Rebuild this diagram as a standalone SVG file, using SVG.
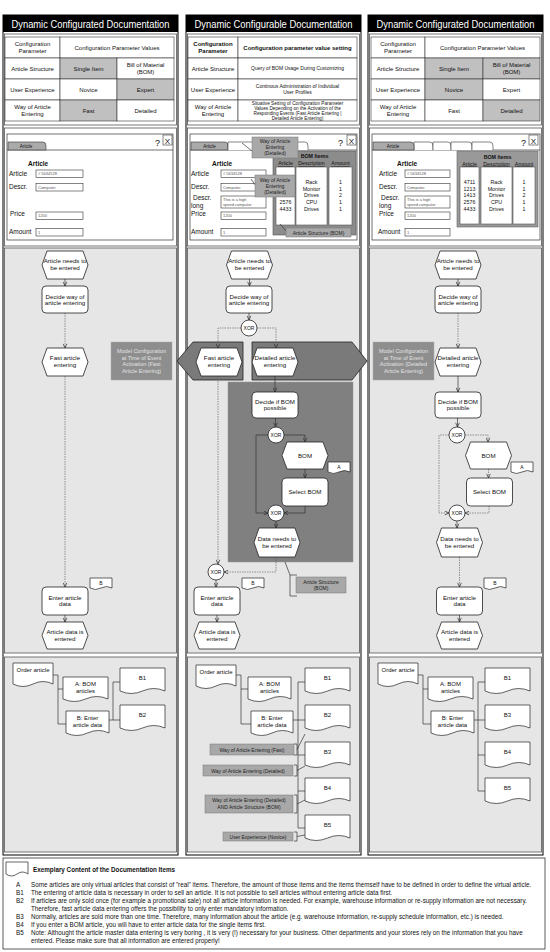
<svg xmlns="http://www.w3.org/2000/svg" width="550" height="952" viewBox="0 0 550 952">
<style>
text{font-family:"Liberation Sans",Arial,sans-serif;fill:#111}
.ttl{fill:#fff;font-size:10px;text-anchor:middle}
.c6{font-size:6px;text-anchor:middle}
.c5{font-size:5px;text-anchor:middle}
.c48{font-size:4.7px;text-anchor:middle}
.p{font-size:6.2px;text-anchor:middle}
.lb{font-size:6.5px}
.hd{font-size:6.5px;font-weight:bold}
.fv{font-size:4px;fill:#555}
.tab{font-size:4.5px;text-anchor:middle}
.bi{font-size:5.3px;text-anchor:middle}
.mc{font-size:5.5px;text-anchor:middle;fill:#e2e2e2}
.cl{font-size:5px;text-anchor:middle;fill:#222}
.lg{font-size:6.3px}
.col{fill:#fff;stroke:#000;stroke-width:1}
.bar{fill:#000}
.sec{fill:#e6e6e6;stroke:#555;stroke-width:0.8}
.secw{fill:#fff;stroke:#555;stroke-width:0.8}
.cell{fill:#fff;stroke:#333;stroke-width:0.6}
.g{fill:#c0c0c0}
.win{fill:#fff;stroke:#333;stroke-width:0.7}
.fld{fill:#fff;stroke:#333;stroke-width:0.6}
.tb{fill:#aaa;stroke:#333;stroke-width:0.6}
.tw{fill:#fff;stroke:#333;stroke-width:0.6}
.bom{stroke:#555;stroke-width:0.6}
.hx{fill:#fff;stroke:#222;stroke-width:0.8}
.rr{fill:#fff;stroke:#222;stroke-width:0.8}
.xor{fill:#fff;stroke:#222;stroke-width:0.8}
.doc{fill:#fff;stroke:#222;stroke-width:0.7}
.dark{fill:#7a7a7a;stroke:#222;stroke-width:0.8}
.darkbox{fill:#808080;stroke:#999;stroke-width:0.5}
.mcb{fill:#8e8e8e;stroke:#aaa;stroke-width:0.5}
.call{fill:#a8a8a8;stroke:#777;stroke-width:0.5}
.ln{fill:none;stroke:#333;stroke-width:0.7}
.dl{fill:none;stroke:#6a6a6a;stroke-width:0.7;stroke-dasharray:1.5 1}
</style>
<defs>
<marker id="ar" viewBox="0 0 6 6" refX="5.5" refY="3" markerWidth="5" markerHeight="5" orient="auto" markerUnits="userSpaceOnUse"><path d="M0.5,0.8 L5.5,3 L0.5,5.2" fill="none" stroke="#333" stroke-width="0.9"/></marker>
</defs>
<rect width="550" height="952" fill="#fff"/>

<!-- ================= COLUMN FRAMES ================= -->
<g id="frames">
  <g id="col1-frame">
    <rect class="col" x="3" y="15" width="175" height="840"/>
    <rect class="bar" x="3" y="15" width="175" height="17"/>
    <text class="ttl" x="90.5" y="27.5" textLength="158" lengthAdjust="spacingAndGlyphs">Dynamic Configurated Documentation</text>
    <rect class="secw" x="4.5" y="34" width="172" height="91"/>
    <rect class="secw" x="4.5" y="128" width="172" height="118"/>
    <rect class="sec" x="4.5" y="248" width="172" height="405"/>
    <rect class="sec" x="4.5" y="657" width="172" height="195"/>
  </g>
  <g id="col2-frame">
    <rect class="col" x="186" y="15" width="175" height="840"/>
    <rect class="bar" x="186" y="15" width="175" height="17"/>
    <text class="ttl" x="273.5" y="27.5" textLength="158" lengthAdjust="spacingAndGlyphs">Dynamic Configurable Documentation</text>
    <rect class="secw" x="187.5" y="34" width="172" height="91"/>
    <rect class="secw" x="187.5" y="128" width="172" height="118"/>
    <rect class="sec" x="187.5" y="248" width="172" height="405"/>
    <rect class="sec" x="187.5" y="657" width="172" height="195"/>
  </g>
  <g id="col3-frame">
    <rect class="col" x="368" y="15" width="175" height="840"/>
    <rect class="bar" x="368" y="15" width="175" height="17"/>
    <text class="ttl" x="455.5" y="27.5" textLength="158" lengthAdjust="spacingAndGlyphs">Dynamic Configurated Documentation</text>
    <rect class="secw" x="369.5" y="34" width="172" height="91"/>
    <rect class="secw" x="369.5" y="128" width="172" height="118"/>
    <rect class="sec" x="369.5" y="248" width="172" height="405"/>
    <rect class="sec" x="369.5" y="657" width="172" height="195"/>
  </g>
</g>

<!-- ================= TABLES ================= -->
<g id="table1">
  <rect class="cell" x="5" y="37" width="55" height="21"/><rect class="cell" x="60" y="37" width="114" height="21"/>
  <rect class="cell" x="5" y="58" width="55" height="21"/><rect class="cell g" x="60" y="58" width="57" height="21"/><rect class="cell" x="117" y="58" width="57" height="21"/>
  <rect class="cell" x="5" y="79" width="55" height="21"/><rect class="cell" x="60" y="79" width="57" height="21"/><rect class="cell g" x="117" y="79" width="57" height="21"/>
  <rect class="cell" x="5" y="100" width="55" height="21"/><rect class="cell g" x="60" y="100" width="57" height="21"/><rect class="cell" x="117" y="100" width="57" height="21"/>
  <text class="c6" x="32.5" y="46">Configuration</text><text class="c6" x="32.5" y="52.5">Parameter</text>
  <text class="c6" x="117" y="49.5">Configuration Parameter Values</text>
  <text class="c6" x="32.5" y="70.5">Article Structure</text>
  <text class="c6" x="88.5" y="70.5">Single Item</text>
  <text class="c6" x="145.5" y="67">Bill of Material</text><text class="c6" x="145.5" y="73.5">(BOM)</text>
  <text class="c6" x="32.5" y="91.5">User Experience</text>
  <text class="c6" x="88.5" y="91.5">Novice</text>
  <text class="c6" x="145.5" y="91.5">Expert</text>
  <text class="c6" x="32.5" y="109">Way of Article</text><text class="c6" x="32.5" y="115.5">Entering</text>
  <text class="c6" x="88.5" y="112.5">Fast</text>
  <text class="c6" x="145.5" y="112.5">Detailed</text>
</g>
<g id="table2">
  <rect class="cell" x="188" y="37" width="50" height="21"/><rect class="cell" x="238" y="37" width="119" height="21"/>
  <rect class="cell" x="188" y="58" width="50" height="21"/><rect class="cell" x="238" y="58" width="119" height="21"/>
  <rect class="cell" x="188" y="79" width="50" height="21"/><rect class="cell" x="238" y="79" width="119" height="21"/>
  <rect class="cell" x="188" y="100" width="50" height="21"/><rect class="cell" x="238" y="100" width="119" height="21"/>
  <text class="c6" x="213" y="46" font-weight="bold">Configuration</text><text class="c6" x="213" y="52.5" font-weight="bold">Parameter</text>
  <text class="c6" x="297.5" y="49.5" font-weight="bold">Configuration parameter value setting</text>
  <text class="c6" x="213" y="70.5">Article Structure</text>
  <text class="c5" x="297.5" y="70">Query of BOM Usage During Customizing</text>
  <text class="c6" x="213" y="91.5">User Experience</text>
  <text class="c5" x="297.5" y="88">Continous Administration of Individual</text><text class="c5" x="297.5" y="94">User Profiles</text>
  <text class="c6" x="213" y="109">Way of Article</text><text class="c6" x="213" y="115.5">Entering</text>
  <text class="c48" x="297.5" y="104.5">Situative Setting of Configuration Parameter</text>
  <text class="c48" x="297.5" y="109.5">Values Depending on the Activation of the</text>
  <text class="c48" x="297.5" y="114.5">Responding Events (Fast Article Entering |</text>
  <text class="c48" x="297.5" y="119.5">Detailed Article Entering)</text>
</g>
<g id="table3">
  <rect class="cell" x="371" y="37" width="54" height="21"/><rect class="cell" x="425" y="37" width="115" height="21"/>
  <rect class="cell" x="371" y="58" width="54" height="21"/><rect class="cell g" x="425" y="58" width="58" height="21"/><rect class="cell g" x="483" y="58" width="57" height="21"/>
  <rect class="cell" x="371" y="79" width="54" height="21"/><rect class="cell g" x="425" y="79" width="58" height="21"/><rect class="cell" x="483" y="79" width="57" height="21"/>
  <rect class="cell" x="371" y="100" width="54" height="21"/><rect class="cell" x="425" y="100" width="58" height="21"/><rect class="cell g" x="483" y="100" width="57" height="21"/>
  <text class="c6" x="398" y="46">Configuration</text><text class="c6" x="398" y="52.5">Parameter</text>
  <text class="c6" x="482.5" y="49.5">Configuration Parameter Values</text>
  <text class="c6" x="398" y="70.5">Article Structure</text>
  <text class="c6" x="454" y="70.5">Single Item</text>
  <text class="c6" x="511.5" y="67">Bill of Material</text><text class="c6" x="511.5" y="73.5">(BOM)</text>
  <text class="c6" x="398" y="91.5">User Experience</text>
  <text class="c6" x="454" y="91.5">Novice</text>
  <text class="c6" x="511.5" y="91.5">Expert</text>
  <text class="c6" x="398" y="109">Way of Article</text><text class="c6" x="398" y="115.5">Entering</text>
  <text class="c6" x="454" y="112.5">Fast</text>
  <text class="c6" x="511.5" y="112.5">Detailed</text>
</g>

<!-- ================= FORMS ================= -->
<g id="form1">
  <rect class="win" x="7" y="134" width="166" height="106"/>
  <line class="ln" x1="7" y1="150" x2="173" y2="150"/>
  <path class="tb" d="M8,150V142H43Q46,142 46,146V150Z"/>
  <text class="tab" x="26" y="148">Article</text>
  <text x="155" y="146" font-size="9">?</text>
  <rect class="fld" x="163" y="135" width="9" height="10"/>
  <text x="167.5" y="143.5" font-size="8" text-anchor="middle">X</text>
  <text class="hd" x="28" y="166">Article</text>
  <text class="lb" x="9" y="175.5">Article</text><rect class="fld" x="36" y="170" width="47" height="7.5"/><text class="fv" x="38" y="175.3"># 5634528</text>
  <text class="lb" x="9" y="189">Descr.</text><rect class="fld" x="36" y="183.5" width="47" height="7.5"/><text class="fv" x="38" y="188.8">Computer</text>
  <text class="lb" x="10" y="216">Price</text><rect class="fld" x="36" y="212" width="47" height="7.5"/><text class="fv" x="38" y="217.3">1200</text>
  <text class="lb" x="9" y="233.5">Amount</text><rect class="fld" x="36" y="228.5" width="47" height="7.5"/><text class="fv" x="38" y="233.8">1</text>
</g>
<g id="form2">
  <rect class="win" x="190" y="134" width="167" height="106"/>
  <line class="ln" x1="190" y1="150" x2="357" y2="150"/>
  <path class="tb" d="M191,150V142H225Q228,142 228,146V150Z"/>
  <path class="tw" d="M228,150V142H305Q308,142 308,146V150"/>
  <text class="tab" x="209.5" y="148">Article</text>
  <text x="338" y="146" font-size="9">?</text>
  <rect class="fld" x="347" y="135" width="9" height="10"/>
  <text x="351.5" y="143.5" font-size="8" text-anchor="middle">X</text>
  <text class="hd" x="212" y="166">Article</text>
  <text class="lb" x="191" y="175.5">Article</text><rect class="fld" x="221" y="170" width="45" height="7.5"/><text class="fv" x="223" y="175.3"># 5634528</text>
  <text class="lb" x="191" y="189">Descr.</text><rect class="fld" x="221" y="183.5" width="45" height="7.5"/><text class="fv" x="223" y="188.8">Computer</text>
  <text class="lb" x="193" y="199.5">Descr.</text><text class="lb" x="191" y="207.5">long</text>
  <rect class="fld" x="221" y="196" width="45" height="12"/><text class="fv" x="223" y="201">This is a high</text><text class="fv" x="223" y="206">speed computer</text>
  <text class="lb" x="191" y="216">Price</text><rect class="fld" x="221" y="212" width="45" height="7.5"/><text class="fv" x="223" y="217.3">1200</text>
  <text class="lb" x="191" y="233.5">Amount</text><rect class="fld" x="221" y="228.5" width="45" height="7.5"/><text class="fv" x="223" y="233.8">1</text>
  <g id="bom2">
    <rect x="273" y="151" width="83" height="84" fill="#8c8c8c" stroke="#555" stroke-width="0.6"/>
    <text class="bi" x="314.5" y="158" font-weight="bold">BOM Items</text>
    <text class="bi" x="285.5" y="165" text-decoration="underline">Article</text>
    <text class="bi" x="311.5" y="165" text-decoration="underline">Description</text>
    <text class="bi" x="340.5" y="165" text-decoration="underline">Amount</text>
    <rect class="bom" x="276" y="167" width="19" height="58" fill="#fff"/>
    <rect class="bom" x="296" y="167" width="31" height="58" fill="#fff"/>
    <rect class="bom" x="329" y="167" width="23" height="58" fill="#fff"/>
    <text class="bi" x="285.5" y="204">2576</text><text class="bi" x="285.5" y="210.7">4433</text>
    <text class="bi" x="311.5" y="184">Rack</text><text class="bi" x="311.5" y="190.7">Monitor</text><text class="bi" x="311.5" y="197.4">Drives</text><text class="bi" x="311.5" y="204">CPU</text><text class="bi" x="311.5" y="210.7">Drives</text>
    <text class="bi" x="340.5" y="184">1</text><text class="bi" x="340.5" y="190.7">1</text><text class="bi" x="340.5" y="197.4">2</text><text class="bi" x="340.5" y="204">1</text><text class="bi" x="340.5" y="210.7">1</text>
  </g>
  <g id="callouts2">
    <line class="ln" x1="242" y1="143" x2="252" y2="151"/>
    <rect class="call" x="252" y="137" width="46" height="21"/>
    <text class="cl" x="275" y="143">Way of Article</text><text class="cl" x="275" y="149">Entering</text><text class="cl" x="275" y="155">(Detailed)</text>
    <line class="ln" x1="251" y1="179" x2="256" y2="186"/>
    <rect class="call" x="255" y="175" width="40" height="22"/>
    <text class="cl" x="275" y="181.5">Way of Article</text><text class="cl" x="275" y="187.5">Entering</text><text class="cl" x="275" y="193.5">(Detailed)</text>
    <line class="ln" x1="280" y1="224" x2="287" y2="232"/>
    <rect class="call" x="286" y="228" width="65" height="9"/>
    <text class="cl" x="318.5" y="234.5">Article Structure (BOM)</text>
  </g>
</g>
<g id="form3">
  <rect class="win" x="372" y="134" width="168" height="106"/>
  <line class="ln" x1="372" y1="150" x2="540" y2="150"/>
  <path class="tw" d="M414,150V142H430Q433,142 433,146V150"/>
  <path class="tw" d="M433,150V142H448Q451,142 451,146V150"/>
  <path class="tw" d="M451,150V142H469Q472,142 472,146V150"/>
  <path class="tw" d="M472,150V142H490Q493,142 493,146V150"/>
  <path class="tb" d="M373,150V142H411Q414,142 414,146V150Z"/>
  <text class="tab" x="393" y="148">Article</text>
  <text x="521" y="146" font-size="9">?</text>
  <rect class="fld" x="529" y="135" width="9" height="10"/>
  <text x="533.5" y="143.5" font-size="8" text-anchor="middle">X</text>
  <text class="hd" x="397" y="166">Article</text>
  <text class="lb" x="379" y="175.5">Article</text><rect class="fld" x="405" y="170" width="45" height="7.5"/><text class="fv" x="407" y="175.3"># 5634528</text>
  <text class="lb" x="379" y="189">Descr.</text><rect class="fld" x="405" y="183.5" width="45" height="7.5"/><text class="fv" x="407" y="188.8">Computer</text>
  <text class="lb" x="381" y="199.5">Descr.</text><text class="lb" x="379" y="207.5">long</text>
  <rect class="fld" x="405" y="196" width="45" height="12"/><text class="fv" x="407" y="201">This is a high</text><text class="fv" x="407" y="206">speed computer</text>
  <text class="lb" x="379" y="216">Price</text><rect class="fld" x="405" y="212" width="45" height="7.5"/><text class="fv" x="407" y="217.3">1200</text>
  <text class="lb" x="378" y="233.5">Amount</text><rect class="fld" x="405" y="228.5" width="45" height="7.5"/><text class="fv" x="407" y="233.8">1</text>
  <g id="bom3">
    <rect x="457" y="151" width="81" height="76" fill="#999" stroke="#666" stroke-width="0.6"/>
    <text class="bi" x="497.5" y="159" font-weight="bold">BOM Items</text>
    <text class="bi" x="469.5" y="165.5" text-decoration="underline">Article</text>
    <text class="bi" x="496.5" y="165.5" text-decoration="underline">Description</text>
    <text class="bi" x="524" y="165.5" text-decoration="underline">Amount</text>
    <rect class="bom" x="460" y="167" width="19" height="57" fill="#fff"/>
    <rect class="bom" x="481" y="167" width="31" height="57" fill="#fff"/>
    <rect class="bom" x="513" y="167" width="22" height="57" fill="#fff"/>
    <text class="bi" x="469.5" y="184">4711</text><text class="bi" x="469.5" y="190.7">1213</text><text class="bi" x="469.5" y="197.4">1413</text><text class="bi" x="469.5" y="204">2576</text><text class="bi" x="469.5" y="210.7">4433</text>
    <text class="bi" x="496.5" y="184">Rack</text><text class="bi" x="496.5" y="190.7">Monitor</text><text class="bi" x="496.5" y="197.4">Drives</text><text class="bi" x="496.5" y="204">CPU</text><text class="bi" x="496.5" y="210.7">Drives</text>
    <text class="bi" x="524" y="184">1</text><text class="bi" x="524" y="190.7">1</text><text class="bi" x="524" y="197.4">2</text><text class="bi" x="524" y="204">1</text><text class="bi" x="524" y="210.7">1</text>
  </g>
</g>

<!-- ================= PROCESS BACKGROUND SHAPES ================= -->
<g id="col2-config-shapes">
  <rect class="darkbox" x="228" y="382" width="125" height="180"/>
  <polygon class="dark" points="177,361 193,342 243,342 243,380 193,380"/>
  <polygon class="dark" points="252,342 352,342 367,361 352,380 252,380"/>
</g>

<!-- ================= CONNECTORS ================= -->
<g id="connectors">
  <line class="ln" x1="65" y1="279" x2="65" y2="286" marker-end="url(#ar)"/>
  <line class="dl" x1="65" y1="313" x2="65" y2="348" marker-end="url(#ar)"/>
  <line class="dl" x1="65" y1="376" x2="65" y2="587" marker-end="url(#ar)"/>
  <line class="ln" x1="65" y1="615" x2="65" y2="622" marker-end="url(#ar)"/>
  <line class="ln" x1="249.5" y1="279" x2="249.5" y2="286" marker-end="url(#ar)"/>
  <line class="ln" x1="249" y1="313" x2="249" y2="320" marker-end="url(#ar)"/>
  <polyline class="dl" points="241,328 218,328 218,348" marker-end="url(#ar)"/>
  <polyline class="dl" points="257,328 276,328 276,348" marker-end="url(#ar)"/>
  <line class="ln" x1="275" y1="376" x2="275" y2="392" marker-end="url(#ar)"/>
  <line class="ln" x1="275.5" y1="418" x2="275.5" y2="427" marker-end="url(#ar)"/>
  <polyline class="ln" points="284,435 305,435 305,442" marker-end="url(#ar)"/>
  <line class="ln" x1="305" y1="469" x2="305" y2="478" marker-end="url(#ar)"/>
  <polyline class="ln" points="305,506 305,513 284,513" marker-end="url(#ar)"/>
  <polyline class="ln" points="268,435 256,435 256,513 268,513" marker-end="url(#ar)"/>
  <line class="ln" x1="276" y1="521" x2="276" y2="528" marker-end="url(#ar)"/>
  <polyline class="dl" points="276,557 276,572 224,572" marker-end="url(#ar)"/>
  <line class="dl" x1="218" y1="376" x2="218" y2="564" marker-end="url(#ar)"/>
  <line class="ln" x1="216" y1="580" x2="216" y2="587" marker-end="url(#ar)"/>
  <line class="ln" x1="217" y1="615" x2="217" y2="622" marker-end="url(#ar)"/>
  <line class="ln" x1="458" y1="279" x2="458" y2="286" marker-end="url(#ar)"/>
  <line class="dl" x1="458" y1="313" x2="458" y2="348" marker-end="url(#ar)"/>
  <line class="ln" x1="458" y1="376" x2="458" y2="392" marker-end="url(#ar)"/>
  <line class="ln" x1="457.5" y1="418" x2="457.5" y2="427" marker-end="url(#ar)"/>
  <polyline class="dl" points="465,435 488,435 488,442" marker-end="url(#ar)"/>
  <line class="dl" x1="488.5" y1="469" x2="488.5" y2="478" marker-end="url(#ar)"/>
  <polyline class="dl" points="489,506 489,513 465,513" marker-end="url(#ar)"/>
  <polyline class="dl" points="449,435 439,435 439,513 449,513" marker-end="url(#ar)"/>
  <line class="ln" x1="457" y1="521" x2="457" y2="528" marker-end="url(#ar)"/>
  <line class="dl" x1="459.5" y1="557" x2="459.5" y2="587" marker-end="url(#ar)"/>
  <line class="ln" x1="459.5" y1="615" x2="459.5" y2="622" marker-end="url(#ar)"/>
  <polyline class="ln" points="53,675 58,675 58,724 66,724"/>
  <line class="ln" x1="58" y1="689" x2="63" y2="689"/>
  <line class="ln" x1="109" y1="720" x2="113" y2="720"/>
  <polyline class="ln" points="120,682 113,682 113,720 120,720"/>
  <polyline class="ln" points="236,675 241,675 241,724 251,724"/>
  <line class="ln" x1="241" y1="689" x2="248" y2="689"/>
  <line class="ln" x1="293" y1="720" x2="298" y2="720"/>
  <polyline class="ln" points="305,682 298,682 298,828 305,828"/>
  <line class="ln" x1="298" y1="720" x2="305" y2="720"/>
  <line class="ln" x1="298" y1="755" x2="305" y2="755"/>
  <line class="ln" x1="298" y1="791" x2="305" y2="791"/>
  <polyline class="ln" points="418,675 423,675 423,724 431,724"/>
  <line class="ln" x1="423" y1="689" x2="428" y2="689"/>
  <line class="ln" x1="474" y1="720" x2="478" y2="720"/>
  <polyline class="ln" points="485,682 478,682 478,791 485,791"/>
  <line class="ln" x1="478" y1="720" x2="485" y2="720"/>
  <line class="ln" x1="478" y1="755" x2="485" y2="755"/>
</g>

<!-- ================= PROCESS NODES col1 ================= -->
<g id="c1-start"><polygon class="hx" points="42,265 47,251 83,251 88,265 83,279 47,279"/><text class="p" x="65" y="263">Article needs to</text><text class="p" x="65" y="270">be entered</text></g>
<g id="c1-decide"><rect class="rr" x="42" y="286" width="46" height="27" rx="4"/><text class="p" x="65" y="298.5">Decide way of</text><text class="p" x="65" y="305">article entering</text></g>
<g id="c1-fast"><polygon class="hx" points="42,362 47,348 83,348 88,362 83,376 47,376"/><text class="p" x="65" y="360">Fast article</text><text class="p" x="65" y="367">entering</text></g>
<g id="c1-model"><rect class="mcb" x="111" y="342" width="61" height="38"/><text class="mc" x="141.5" y="353">Model Configuration</text><text class="mc" x="141.5" y="359.5">at Time of Event</text><text class="mc" x="141.5" y="366">Activation  (Fast</text><text class="mc" x="141.5" y="372.5">Article Entering)</text></g>
<g id="c1-enter"><rect class="rr" x="42" y="587" width="46" height="28" rx="4"/><text class="p" x="65" y="599.5">Enter article</text><text class="p" x="65" y="606">data</text></g>
<g id="c1-docB"><path class="doc" d="M90,578H112V588Q106.5,585 101,588T90,588Z"/><text class="c5" x="101" y="584.5">B</text></g>
<g id="c1-end"><polygon class="hx" points="42,635.5 47,622 83,622 88,635.5 83,649 47,649"/><text class="p" x="65" y="634">Article data is</text><text class="p" x="65" y="641">entered</text></g>

<!-- ================= PROCESS NODES col2 ================= -->
<g id="c2-start"><polygon class="hx" points="226.5,265 231.5,251 267.5,251 272.5,265 267.5,279 231.5,279"/><text class="p" x="249.5" y="263">Article needs to</text><text class="p" x="249.5" y="270">be entered</text></g>
<g id="c2-decide"><rect class="rr" x="226" y="286" width="46" height="27" rx="4"/><text class="p" x="249" y="298.5">Decide way of</text><text class="p" x="249" y="305">article entering</text></g>
<g id="c2-xor1"><circle class="xor" cx="249" cy="328" r="8"/><text class="c5" x="249" y="330">XOR</text></g>
<g id="c2-fast"><polygon class="hx" points="196,362 201,348 237,348 242,362 237,376 201,376"/><text class="p" x="219" y="360">Fast article</text><text class="p" x="219" y="367">entering</text></g>
<g id="c2-detailed"><polygon class="hx" points="252,362 257,348 293,348 298,362 293,376 257,376"/><text class="p" x="275" y="360">Detailed article</text><text class="p" x="275" y="367">entering</text></g>
<g id="c2-decbom"><rect class="rr" x="252" y="392" width="46" height="26" rx="4"/><text class="p" x="275" y="403.5">Decide if BOM</text><text class="p" x="275" y="410">possible</text></g>
<g id="c2-xor2"><circle class="xor" cx="276" cy="435" r="8"/><text class="c5" x="276" y="437">XOR</text></g>
<g id="c2-bom"><polygon class="hx" points="282,455.5 287,442 323,442 328,455.5 323,469 287,469"/><text class="p" x="305" y="457.5">BOM</text></g>
<g id="c2-docA"><path class="doc" d="M328,462H350V472Q344.5,469 339,472T328,472Z"/><text class="c5" x="339" y="468.5">A</text></g>
<g id="c2-select"><rect class="rr" x="282" y="478" width="46" height="28" rx="4"/><text class="p" x="305" y="494">Select BOM</text></g>
<g id="c2-xor3"><circle class="xor" cx="276" cy="513" r="8"/><text class="c5" x="276" y="515">XOR</text></g>
<g id="c2-dataneeds"><polygon class="hx" points="254,542.5 259,528 295,528 300,542.5 295,557 259,557"/><text class="p" x="277" y="540.5">Data needs to</text><text class="p" x="277" y="547.5">be entered</text></g>
<g id="c2-xor4"><circle class="xor" cx="216" cy="572" r="8"/><text class="c5" x="216" y="574">XOR</text></g>
<g id="c2-enter"><rect class="rr" x="194" y="587" width="46" height="28" rx="4"/><text class="p" x="217" y="599.5">Enter article</text><text class="p" x="217" y="606">data</text></g>
<g id="c2-docB"><path class="doc" d="M242,578H264V588Q258.5,585 253,588T242,588Z"/><text class="c5" x="253" y="584.5">B</text></g>
<g id="c2-end"><polygon class="hx" points="194,635.5 199,622 235,622 240,635.5 235,649 199,649"/><text class="p" x="217" y="634">Article data is</text><text class="p" x="217" y="641">entered</text></g>
<g id="c2-bomnote">
  <line class="ln" x1="285" y1="562" x2="290" y2="575"/>
  <path class="ln" d="M297,575H290V596H297"/>
  <rect class="call" x="296" y="577" width="50" height="16"/>
  <text class="cl" x="321" y="584">Article Structure</text><text class="cl" x="321" y="590">(BOM)</text>
</g>

<!-- ================= PROCESS NODES col3 ================= -->
<g id="c3-start"><polygon class="hx" points="435,265 440,251 476,251 481,265 476,279 440,279"/><text class="p" x="458" y="263">Article needs to</text><text class="p" x="458" y="270">be entered</text></g>
<g id="c3-decide"><rect class="rr" x="435" y="286" width="46" height="27" rx="4"/><text class="p" x="458" y="298.5">Decide way of</text><text class="p" x="458" y="305">article entering</text></g>
<g id="c3-model"><rect class="mcb" x="373" y="342" width="61" height="38"/><text class="mc" x="403.5" y="353">Model Configuration</text><text class="mc" x="403.5" y="359.5">at Time of Event</text><text class="mc" x="403.5" y="366">Activation  (Detailed</text><text class="mc" x="403.5" y="372.5">Article Entering)</text></g>
<g id="c3-detailed"><polygon class="hx" points="435,362 440,348 476,348 481,362 476,376 440,376"/><text class="p" x="458" y="360">Detailed article</text><text class="p" x="458" y="367">entering</text></g>
<g id="c3-decbom"><rect class="rr" x="435" y="392" width="46" height="26" rx="4"/><text class="p" x="458" y="403.5">Decide if BOM</text><text class="p" x="458" y="410">possible</text></g>
<g id="c3-xor1"><circle class="xor" cx="457" cy="435" r="8"/><text class="c5" x="457" y="437">XOR</text></g>
<g id="c3-bom"><polygon class="hx" points="465.5,455.5 470.5,442 506.5,442 511.5,455.5 506.5,469 470.5,469"/><text class="p" x="488.5" y="457.5">BOM</text></g>
<g id="c3-docA"><path class="doc" d="M511,462H533V472Q527.5,469 522,472T511,472Z"/><text class="c5" x="522" y="468.5">A</text></g>
<g id="c3-select"><rect class="rr" x="466.5" y="478" width="46" height="28" rx="4"/><text class="p" x="489.5" y="494">Select BOM</text></g>
<g id="c3-xor2"><circle class="xor" cx="457" cy="513" r="8"/><text class="c5" x="457" y="515">XOR</text></g>
<g id="c3-dataneeds"><polygon class="hx" points="436.5,542.5 441.5,528 477.5,528 482.5,542.5 477.5,557 441.5,557"/><text class="p" x="459.5" y="540.5">Data needs to</text><text class="p" x="459.5" y="547.5">be entered</text></g>
<g id="c3-enter"><rect class="rr" x="436.5" y="587" width="46" height="28" rx="4"/><text class="p" x="459.5" y="599.5">Enter article</text><text class="p" x="459.5" y="606">data</text></g>
<g id="c3-docB"><path class="doc" d="M484,578H506V588Q500.5,585 495,588T484,588Z"/><text class="c5" x="495" y="584.5">B</text></g>
<g id="c3-end"><polygon class="hx" points="436.5,635.5 441.5,622 477.5,622 482.5,635.5 477.5,649 441.5,649"/><text class="p" x="459.5" y="634">Article data is</text><text class="p" x="459.5" y="641">entered</text></g>

<!-- ================= DOCUMENTS ================= -->
<g id="d1-order"><path class="doc" d="M13,663H53V684Q43,679 33,684T13,684Z"/><text class="c6" x="33" y="672">Order article</text></g>
<g id="d1-A"><path class="doc" d="M63,677H108V699Q96.75,694 85.5,699T63,699Z"/><text class="c6" x="85.5" y="686">A: BOM</text><text class="c6" x="85.5" y="692.5">articles</text></g>
<g id="d1-B"><path class="doc" d="M66,711H109V733Q98.25,728 87.5,733T66,733Z"/><text class="c6" x="87.5" y="720">B: Enter</text><text class="c6" x="87.5" y="726.5">article data</text></g>
<g id="d1-B1"><path class="doc" d="M120,668H165V691Q153.75,686 142.5,691T120,691Z"/><text class="c6" x="142.5" y="680">B1</text></g>
<g id="d1-B2"><path class="doc" d="M120,705H165V728Q153.75,723 142.5,728T120,728Z"/><text class="c6" x="142.5" y="717">B2</text></g>

<g id="d2-order"><path class="doc" d="M196,665H236V686Q226,681 216,686T196,686Z"/><text class="c6" x="216" y="674">Order article</text></g>
<g id="d2-A"><path class="doc" d="M248,677H291V699Q280.25,694 269.5,699T248,699Z"/><text class="c6" x="269.5" y="686">A: BOM</text><text class="c6" x="269.5" y="692.5">articles</text></g>
<g id="d2-B"><path class="doc" d="M251,711H293V733Q282.5,728 272,733T251,733Z"/><text class="c6" x="272" y="720">B: Enter</text><text class="c6" x="272" y="726.5">article data</text></g>
<g id="d2-B1"><path class="doc" d="M305,668H350V691Q338.75,686 327.5,691T305,691Z"/><text class="c6" x="327.5" y="680">B1</text></g>
<g id="d2-B2"><path class="doc" d="M305,705H350V728Q338.75,723 327.5,728T305,728Z"/><text class="c6" x="327.5" y="717">B2</text></g>
<g id="d2-B3"><path class="doc" d="M305,742H350V765Q338.75,760 327.5,765T305,765Z"/><text class="c6" x="327.5" y="754">B3</text></g>
<g id="d2-B4"><path class="doc" d="M305,778H350V801Q338.75,796 327.5,801T305,801Z"/><text class="c6" x="327.5" y="790">B4</text></g>
<g id="d2-B5"><path class="doc" d="M305,815H350V838Q338.75,833 327.5,838T305,838Z"/><text class="c6" x="327.5" y="827">B5</text></g>
<g id="d2-cond1"><rect class="call" x="210" y="744" width="84" height="11"/><text class="cl" x="252" y="751.5">Way of Article Entering (Fast)</text><path class="ln" d="M294,744H297V755H294M297,749.5L305,734"/></g>
<g id="d2-cond2"><rect class="call" x="203" y="765" width="90" height="11"/><text class="cl" x="248" y="772.5">Way of Article Entering (Detailed)</text><path class="ln" d="M294,765H297V776H294M297,770.5L305,766"/></g>
<g id="d2-cond3"><rect class="call" x="205" y="795" width="88" height="18"/><text class="cl" x="249" y="802">Way of Article Entering (Detailed)</text><text class="cl" x="249" y="808.5">AND Article Structure (BOM)</text><path class="ln" d="M294,795H297V813H294M297,804L305,800"/></g>
<g id="d2-cond4"><rect class="call" x="223" y="832" width="70" height="9"/><text class="cl" x="258" y="838.5">User Experience (Novice)</text><path class="ln" d="M294,832H297V841H294M297,836.5L305,835"/></g>

<g id="d3-order"><path class="doc" d="M378,663H418V684Q408,679 398,684T378,684Z"/><text class="c6" x="398" y="672">Order article</text></g>
<g id="d3-A"><path class="doc" d="M428,677H473V699Q461.75,694 450.5,699T428,699Z"/><text class="c6" x="450.5" y="686">A: BOM</text><text class="c6" x="450.5" y="692.5">articles</text></g>
<g id="d3-B"><path class="doc" d="M431,711H474V733Q463.25,728 452.5,733T431,733Z"/><text class="c6" x="452.5" y="720">B: Enter</text><text class="c6" x="452.5" y="726.5">article data</text></g>
<g id="d3-B1"><path class="doc" d="M485,668H530V691Q518.75,686 507.5,691T485,691Z"/><text class="c6" x="507.5" y="680">B1</text></g>
<g id="d3-B3"><path class="doc" d="M485,705H530V728Q518.75,723 507.5,728T485,728Z"/><text class="c6" x="507.5" y="717">B3</text></g>
<g id="d3-B4"><path class="doc" d="M485,742H530V765Q518.75,760 507.5,765T485,765Z"/><text class="c6" x="507.5" y="754">B4</text></g>
<g id="d3-B5"><path class="doc" d="M485,778H530V801Q518.75,796 507.5,801T485,801Z"/><text class="c6" x="507.5" y="790">B5</text></g>

<!-- ================= LEGEND ================= -->
<g id="legend">
  <rect x="3" y="858" width="542" height="91" fill="#fff" stroke="#333" stroke-width="0.8"/>
  <path class="doc" d="M6,862H28V874Q22.5,870 17,874T6,874Z"/>
  <text class="lg" x="33" y="872" font-weight="bold" font-size="5.8px">Exemplary Content of the Documentation Items</text>
  <text class="lg" x="16" y="887">A</text>
  <text class="lg" x="31" y="887">Some articles are only virtual articles that consist of "real" items. Therefore, the amount of those items and the items themself have to be defined in order to define the virtual article.</text>
  <text class="lg" x="16" y="894.8">B1</text>
  <text class="lg" x="31" y="894.8">The entering of article data is necessary in order to sell an article. It is not possible to sell articles without entering article data first.</text>
  <text class="lg" x="16" y="902.6">B2</text>
  <text class="lg" x="31" y="902.6">If articles are only sold once (for example a promotional sale) not all article information is needed. For example, warehouse information or re-supply information are not necessary.</text>
  <text class="lg" x="31" y="910.7">Therefore, fast article data entering offers the possibility to only enter mandatory information.</text>
  <text class="lg" x="16" y="919">B3</text>
  <text class="lg" x="31" y="919">Normally, articles are sold more than one time. Therefore, many information about the article (e.g. warehouse information,  re-supply schedule information, etc.) is needed.</text>
  <text class="lg" x="16" y="927">B4</text>
  <text class="lg" x="31" y="927">If you enter a BOM article, you will have to enter article data for the single items first.</text>
  <text class="lg" x="16" y="935">B5</text>
  <text class="lg" x="31" y="935">Note: Althought the article master data entering is very boring , it is very (!) necessary for your business. Other departments and your stores rely on the information that you have</text>
  <text class="lg" x="31" y="943">entered. Please make sure that all information are entered properly!</text>
</g>
</svg>
